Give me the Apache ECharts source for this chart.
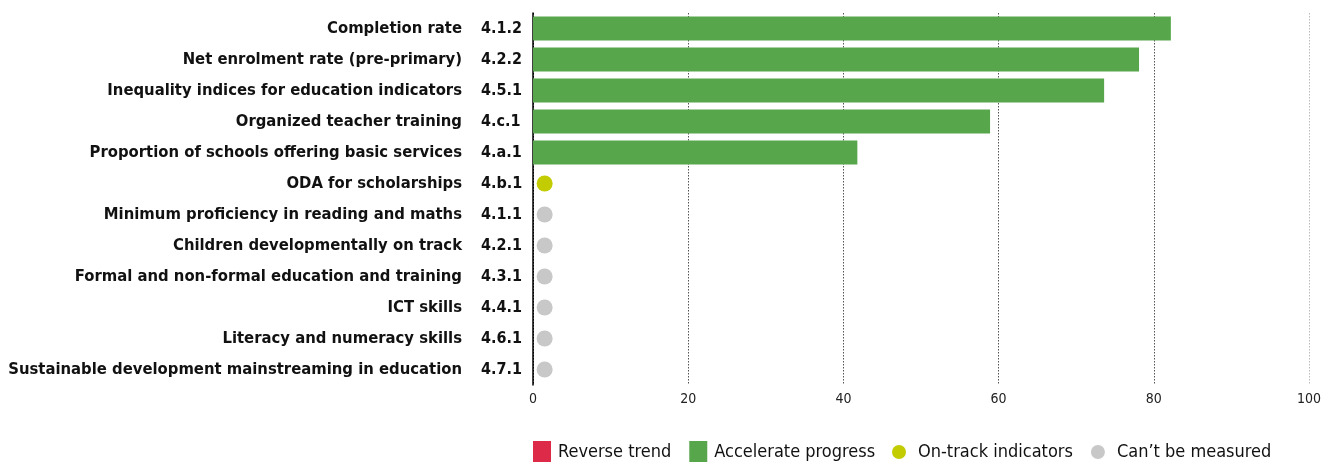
<!DOCTYPE html>
<html><head><meta charset="utf-8">
<script src="https://cdn.jsdelivr.net/npm/echarts@6/dist/echarts.min.js"></script>
<style>html,body{margin:0;padding:0;background:#fff}#c{width:1324px;height:462px}</style>
</head><body><div id="c"></div>
<script>
const categories = ["Completion rate","Net enrolment rate (pre-primary)","Inequality indices for education indicators","Organized teacher training","Proportion of schools offering basic services","ODA for scholarships","Minimum proficiency in reading and maths","Children developmentally on track","Formal and non-formal education and training","ICT skills","Literacy and numeracy skills","Sustainable development mainstreaming in education"];
const codes = ["4.1.2","4.2.2","4.5.1","4.c.1","4.a.1","4.b.1","4.1.1","4.2.1","4.3.1","4.4.1","4.6.1","4.7.1"];
const accelerate = [82.2, 78.1, 73.6, 58.9, 41.8, null, null, null, null, null, null, null];
const reverse = [null, null, null, null, null, null, null, null, null, null, null, null];
const onTrack = [null, null, null, null, null, 1.5, null, null, null, null, null, null];
const notMeasured = [null, null, null, null, null, null, 1.5, 1.5, 1.5, 1.5, 1.5, 1.5];
const xTicks = [0, 20, 40, 60, 80, 100];

const FONT = "'DejaVu Sans Condensed', 'DejaVu Sans', sans-serif";
const chart = echarts.init(document.getElementById('c'));
const pts = arr => arr.map((v,i)=> v==null ? null : [v, categories[i]]).filter(d=>d);
chart.setOption({
  animation: false,
  textStyle: {fontFamily: FONT},
  grid: {left: 533, right: 14, top: 13, height: 372, containLabel: false},
  xAxis: {
    type: 'value', min: xTicks[0], max: xTicks[xTicks.length-1], interval: 20,
    axisLine: {show: false}, axisTick: {show: false},
    axisLabel: {fontFamily: FONT, fontSize: 14, color: '#222', margin: 7},
    splitLine: {show: true, lineStyle: {type: [1.5, 1.5], width: 1, color: ['#000','#555','#555','#555','#555','#bbb']}}
  },
  yAxis: [{
    type: 'category', data: categories, inverse: true, position: 'left',
    axisLine: {show: true, lineStyle: {color: '#000', width: 1.5}},
    axisTick: {show: false},
    axisLabel: {fontFamily: FONT, fontWeight: 'bold', fontSize: 16.5, color: '#111', margin: 71}
  }, {
    type: 'category', data: codes, inverse: true, position: 'left',
    axisLine: {show: false}, axisTick: {show: false},
    axisLabel: {fontFamily: FONT, fontWeight: 'bold', fontSize: 16, color: '#111', margin: 52, align: 'left'}
  }],
  legend: [{
    left: 533, top: 441, padding: 0, itemWidth: 18, itemHeight: 22, itemGap: 18,
    icon: 'rect', textStyle: {fontFamily: FONT, fontSize: 18, color: '#111', lineHeight: 22, padding: [0,0,0,2]},
    data: ['Reverse trend', 'Accelerate progress']
  }, {
    left: 892, top: 441, padding: 0, itemWidth: 14, itemHeight: 14, itemGap: 18,
    icon: 'circle', textStyle: {fontFamily: FONT, fontSize: 18, color: '#111', lineHeight: 22, padding: [0,0,0,7]},
    data: ['On-track indicators', 'Can\u2019t be measured']
  }],
  series: [
    {name: 'Reverse trend', type: 'bar', stack: 's', barWidth: 24, data: reverse, itemStyle: {color: '#dc2a48'}},
    {name: 'Accelerate progress', type: 'bar', stack: 's', barWidth: 24, data: accelerate, itemStyle: {color: '#57a64b'}},
    {name: 'On-track indicators', type: 'scatter', symbolSize: 16, data: pts(onTrack), itemStyle: {color: '#c2cc00', opacity: 1}},
    {name: 'Can\u2019t be measured', type: 'scatter', symbolSize: 16, data: pts(notMeasured), itemStyle: {color: '#c8c8c8', opacity: 1}}
  ]
});
</script></body></html>
